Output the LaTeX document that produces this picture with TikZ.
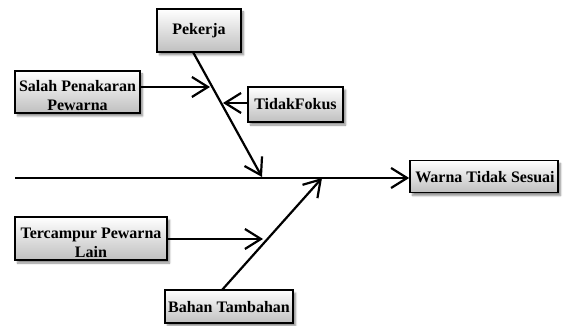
\documentclass[tikz,border=0pt]{standalone}
\usepackage{fontspec}
\setmainfont{Liberation Serif}
\usetikzlibrary{arrows.meta,shadows.blur}
\tikzset{
  causebox/.style={draw=black, line width=1.7pt, top color=white, bottom color=black!25,
    inner sep=0pt, blur shadow={shadow xshift=2.5pt, shadow yshift=-3pt, shadow blur steps=6, shadow opacity=45}},
  lbl/.style={font=\fontsize{16}{19}\selectfont\bfseries, align=center, inner sep=0pt},
  bone/.style={line width=2.2pt, -{Straight Barb[length=16pt, width=20pt, line width=2.2pt]}}
}
\begin{document}
\begin{tikzpicture}[x=1pt, y=-1pt]
\useasboundingbox (0,0) rectangle (566,326);

% cause boxes
\node[causebox, minimum width=84pt, minimum height=43pt] (pek) at (199,30.5) {};
\node[causebox, minimum width=125pt, minimum height=42pt] (salah) at (77.5,92) {};
\node[causebox, minimum width=95pt, minimum height=35pt] (tidak) at (295.5,104.5) {};
\node[causebox, minimum width=148pt, minimum height=32pt] (warna) at (484,176.5) {};
\node[causebox, minimum width=152pt, minimum height=43pt] (terc) at (91,238.5) {};
\node[causebox, minimum width=128pt, minimum height=33pt] (bahan) at (229,306.5) {};

% box texts
\node[lbl] (tpek) at (199,31) {Pekerja};
\node[lbl] (tsalah) at (77.5,96) {Salah Penakaran\\Pewarna};
\node[lbl] (ttidak) at (295.5,104) {TidakFokus};
\node[lbl] (twarna) at (485,177) {Warna Tidak Sesuai};
\node[lbl] (tterc) at (91,243) {Tercampur Pewarna\\Lain};
\node[lbl] (tbahan) at (229,307) {Bahan Tambahan};

% spine and bones
\coordinate (tail) at (15,178);
\coordinate (pk0) at (193,52);
\coordinate (pk1) at (262,177);
\coordinate (bh0) at (222,290);
\coordinate (bh1) at (322,178);
\coordinate (sa) at (210,87);
\coordinate (ta) at (223,103);
\coordinate (tc) at (263,239);

\draw[bone] (tail) -- (tail -| warna.west);
\draw[bone] (pk0) -- (pk1);
\draw[bone] (bh0) -- (bh1);
\draw[bone] (salah.east |- sa) -- (sa);
\draw[bone] (tidak.west |- ta) -- (ta);
\draw[bone] (terc.east |- tc) -- (tc);
\end{tikzpicture}
\end{document}
